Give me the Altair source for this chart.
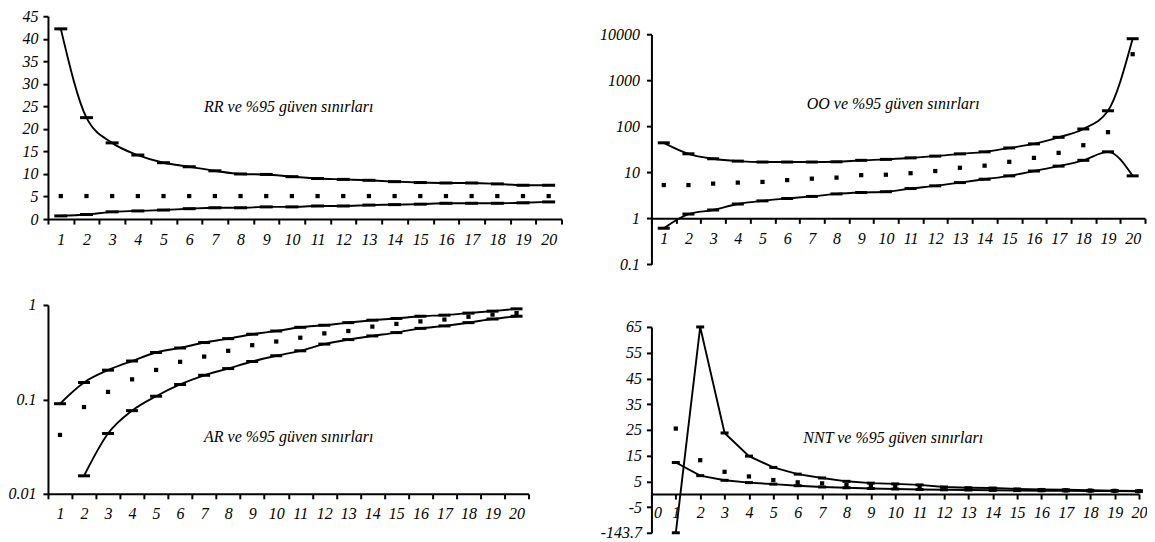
import altair as alt
import pandas as pd

FONT = "Liberation Serif"
FS = 16

# ---------------- data ----------------
x_vals = list(range(1, 21))

rr_upper = [42.2, 22.5, 16.9, 14.2, 12.5, 11.6, 10.7, 10.0, 9.9, 9.4,
            9.0, 8.8, 8.6, 8.3, 8.1, 8.0, 8.0, 7.8, 7.5, 7.5]
rr_point = [5.1, 5.1, 5.1, 5.1, 5.1, 5.1, 5.1, 5.1, 5.1, 5.1,
            5.1, 5.1, 5.1, 5.1, 5.1, 5.1, 5.1, 5.1, 5.1, 5.1]
rr_lower = [0.7, 1.0, 1.6, 1.8, 2.0, 2.3, 2.5, 2.5, 2.7, 2.7,
            2.9, 2.9, 3.1, 3.2, 3.3, 3.5, 3.5, 3.5, 3.6, 3.8]

oo_upper = [44, 25.4, 19.8, 17.6, 16.8, 16.8, 16.8, 17.0, 18.3, 19.2,
            20.7, 22.6, 25.3, 28, 34, 41.7, 58, 88, 219, 8100]
oo_point = [5.3, 5.3, 5.7, 6.0, 6.2, 6.8, 7.3, 7.7, 8.7, 8.9,
            9.6, 10.7, 12.6, 14, 17, 20.7, 26.6, 39, 75, 3730]
oo_lower = [0.61, 1.24, 1.52, 2.05, 2.4, 2.7, 3.0, 3.4, 3.65, 3.8,
            4.45, 5.1, 6.0, 7.1, 8.4, 10.7, 13.7, 18.3, 28, 8.4]

ar_upper = [0.090, 0.151, 0.204, 0.255, 0.314, 0.351, 0.40, 0.44, 0.49, 0.53,
            0.58, 0.61, 0.65, 0.69, 0.72, 0.76, 0.78, 0.82, 0.86, 0.91]
ar_point = [0.042, 0.083, 0.12, 0.163, 0.205, 0.25, 0.284, 0.327, 0.375, 0.41,
            0.45, 0.50, 0.53, 0.59, 0.63, 0.67, 0.70, 0.75, 0.79, 0.82]
ar_lower = [None, 0.0155, 0.0435, 0.076, 0.108, 0.144, 0.18, 0.212, 0.252, 0.29,
            0.327, 0.385, 0.43, 0.47, 0.51, 0.565, 0.60, 0.65, 0.71, 0.76]

nnt_upper = [-143.7, 65, 23.8, 14.8, 10.4, 7.8, 6.3, 5.0, 4.3, 4.0,
             3.6, 2.8, 2.5, 2.4, 2.0, 1.8, 1.7, 1.5, 1.4, 1.3]
nnt_point = [25.5, 13.2, 8.7, 6.9, 5.5, 4.6, 4.2, 3.6, 3.2, 2.9,
             2.6, 2.3, 2.1, 1.9, 1.7, 1.6, 1.5, 1.4, 1.3, 1.2]
nnt_lower = [12.3, 7.2, 5.4, 4.5, 3.9, 3.3, 2.8, 2.5, 2.2, 2.0,
             1.8, 1.7, 1.6, 1.5, 1.4, 1.35, 1.3, 1.25, 1.2, 1.1]

rr_ticks = [0, 5, 10, 15, 20, 25, 30, 35, 40, 45]
oo_ticks = [0.1, 1, 10, 100, 1000, 10000]
ar_ticks = [0.01, 0.1, 1]
nnt_ticks = [-15, -5, 5, 15, 25, 35, 45, 55, 65]   # -15 stands for the broken -143.7
nnt_break_label = "-143.7"
nnt_x_ticks = list(range(0, 21))
band_edges = [i + 0.5 for i in range(0, 21)]

titles = {
    "rr": "RR ve %95 güven sınırları",
    "oo": "OO ve %95 güven sınırları",
    "ar": "AR ve %95 güven sınırları",
    "nnt": "NNT ve %95 güven sınırları",
}


def long_df(up, pt, lo):
    rows = []
    for i, x in enumerate(x_vals):
        for kind, arr in (("upper", up), ("point", pt), ("lower", lo)):
            if arr[i] is not None:
                rows.append({"x": x, "kind": kind, "v": arr[i]})
    return pd.DataFrame(rows)


AX = dict(domainColor="black", domainWidth=2, tickColor="black", tickWidth=2,
          tickSize=5, labelFont=FONT, labelFontStyle="italic", labelFontSize=FS,
          labelColor="black", grid=False, title=None, labelOverlap=False,
          labelFlush=False)


def band_x_axis(half, offset=0):
    # ticks sit between categories; labels are shifted into the middle of each band
    return alt.Axis(values=band_edges,
                    labelExpr="datum.value < 20 ? format(datum.value + 0.5, 'd') : ''",
                    labelOffset={"condition": {"test": "datum.value > 20", "value": 0},
                                 "value": half},
                    labelPadding=7, offset=offset, **AX)


def panel(df, xenc, yfield, yscale, yaxis, w, h, tick_len, ann, ax, ay, interp="monotone",
          pre=None):
    base = alt.Chart(df)
    if pre is not None:
        base = pre(base)
    y = alt.Y(yfield, scale=yscale, axis=yaxis)
    lines = base.transform_filter("datum.kind != 'point'").mark_line(
        color="black", strokeWidth=1.9, interpolate=interp
    ).encode(x=xenc, y=y, detail="kind:N")
    ticks = base.transform_filter("datum.kind != 'point'").mark_tick(
        orient="horizontal", color="black", size=tick_len, thickness=3, opacity=1
    ).encode(x=xenc, y=y)
    pts = base.transform_filter("datum.kind == 'point'").mark_square(
        size=18, color="black", opacity=1
    ).encode(x=xenc, y=y)
    txt = alt.Chart(pd.DataFrame({"label": [ann]})).mark_text(
        font=FONT, fontStyle="italic", fontSize=FS, color="black",
        align="center", baseline="middle"
    ).encode(text="label:N", x=alt.value(ax), y=alt.value(ay))
    return alt.layer(lines, ticks, pts, txt).properties(width=w, height=h)


# ---- RR ----
rr = panel(
    long_df(rr_upper, rr_point, rr_lower),
    alt.X("x:Q", scale=alt.Scale(domain=[0.5, 20.5], nice=False, zero=False),
          axis=band_x_axis(12.85)),
    "v:Q", alt.Scale(domain=[0, 45], nice=False),
    alt.Axis(values=rr_ticks, labelPadding=5, **AX),
    514, 203, 13, titles["rr"], 241, 91,
)

# ---- OO ---- (plot starts lower than RR: scale range leaves a blank band on top)
OO_H = 248.3
OO_TOP = 18.3
oo = panel(
    long_df(oo_upper, oo_point, oo_lower),
    alt.X("x:Q", scale=alt.Scale(domain=[0.5, 20.5], nice=False, zero=False),
          axis=band_x_axis(12.35, offset=-46)),
    "v:Q", alt.Scale(type="log", domain=[0.1, 10000], nice=False, range=[OO_H, OO_TOP]),
    alt.Axis(values=oo_ticks, format="~g", labelPadding=7, **AX),
    494, OO_H, 12, titles["oo"], 242, 88,
)

# ---- AR ----
ar = panel(
    long_df(ar_upper, ar_point, ar_lower),
    alt.X("x:Q", scale=alt.Scale(domain=[0.5, 20.5], nice=False, zero=False),
          axis=band_x_axis(12.0)),
    "v:Q", alt.Scale(type="log", domain=[0.01, 1], nice=False),
    alt.Axis(values=ar_ticks, format="~g", labelPadding=7, **AX),
    481, 189, 12, titles["ar"], 241, 132,
)

# ---- NNT ----
nnt = panel(
    long_df(nnt_upper, nnt_point, nnt_lower),
    alt.X("x:Q", scale=alt.Scale(domain=[0, 20], nice=False, zero=False),
          axis=alt.Axis(values=nnt_x_ticks, format="d", labelPadding=5, offset=-38.7,
                        labelOffset={"condition": {"test": "datum.value == 0", "value": 6}, "value": 0},
                        **AX)),
    "vp:Q", alt.Scale(domain=[-15, 65], nice=False, zero=False),
    alt.Axis(values=nnt_ticks, labelPadding=5,
             labelExpr=f"datum.value == -15 ? '{nnt_break_label}' : ('' + datum.value)", **AX),
    488, 206, 8, titles["nnt"], 242, 111, interp="linear",
    pre=lambda b: b.transform_calculate(vp="max(datum.v, -15)"),
)

left = alt.vconcat(rr, ar, spacing=50)
right = alt.vconcat(oo, nnt, spacing=46)
chart = alt.hconcat(left, right, spacing=37).properties(
    padding={"left": 0, "top": 0, "right": 0, "bottom": 0}
).configure_view(stroke=None)

chart.save("out.html", embed_options={"renderer": "svg", "actions": False})
